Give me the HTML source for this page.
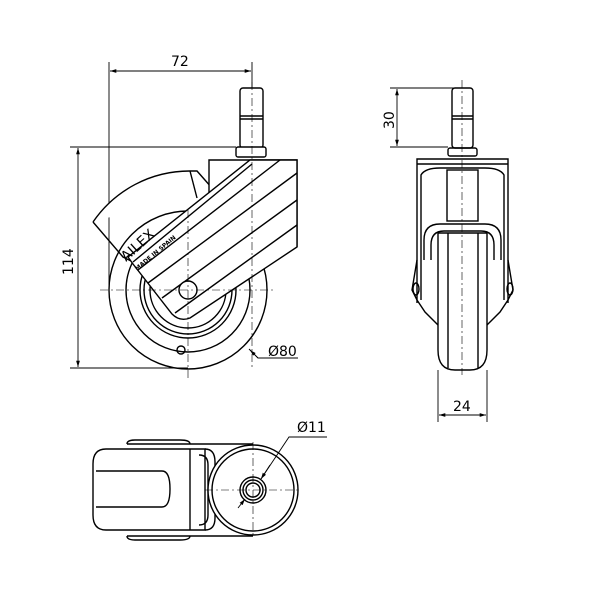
<!DOCTYPE html>
<html><head><style>html,body{margin:0;padding:0;background:#fff}svg{display:block}</style></head>
<body>
<svg width="600" height="600" viewBox="0 0 600 600" xmlns="http://www.w3.org/2000/svg" font-family="DejaVu Sans, Liberation Sans, sans-serif">
<rect width="600" height="600" fill="#fff"/>
<defs>
<marker id="a" viewBox="0 0 10 10" refX="10" refY="5" markerWidth="7" markerHeight="7" orient="auto-start-reverse"><path d="M0,2 L10,5 L0,8 z" fill="#000"/></marker>
</defs>
<g fill="none" stroke="#000" stroke-width="0.9">
<line x1="109" y1="62" x2="109" y2="290"/>
<line x1="252" y1="62" x2="252" y2="90"/>
<line x1="110" y1="71" x2="251" y2="71" marker-start="url(#a)" marker-end="url(#a)"/>
<line x1="70" y1="147" x2="236" y2="147"/>
<line x1="70" y1="368" x2="188" y2="368"/>
<line x1="78" y1="148" x2="78" y2="367" marker-start="url(#a)" marker-end="url(#a)"/>
<polyline points="298,358 258,358 249,349" />
<line x1="258" y1="358" x2="250" y2="350" marker-end="url(#a)"/>
</g>
<g fill="none" stroke="#000" stroke-width="1.4">
<circle cx="188" cy="290" r="79"/>
<circle cx="188" cy="290" r="62"/>
<circle cx="188" cy="290" r="48"/>
<circle cx="188" cy="290" r="44"/>
<circle cx="188" cy="290" r="38"/>
<circle cx="181" cy="350" r="4"/>
<path d="M93,222 A117,117 0 0 1 190,171 L197,171 L212,188" fill="#fff"/>
<path d="M93,222 L123,257 L133,262"/>
<path d="M190,171 L197,198"/>
<rect x="240" y="88" width="23" height="60" rx="3" fill="#fff"/>
<line x1="240" y1="116" x2="263" y2="116"/><line x1="240" y1="119" x2="263" y2="119"/>
<rect x="236" y="147" width="30" height="10" rx="2" fill="#fff"/>
<path d="M209,160 L297,160 L297,247 L209,247 Z" fill="#fff" stroke="none"/>
<path d="M209,195 L209,160 L297,160 L297,247"/>
<path d="M128,257 L250,160 L297,160 L297,247 L190,318 Q180,322 172,314 L133,264 Z" fill="#fff"/>
<line x1="133" y1="262" x2="252" y2="164"/>
<line x1="138" y1="270" x2="280" y2="160"/>
<line x1="148" y1="283" x2="297" y2="173"/>
<line x1="162" y1="298" x2="297" y2="200"/>
<line x1="175" y1="313" x2="297" y2="225"/>
<circle cx="188" cy="290" r="9" fill="#fff"/>
</g>
<g stroke="#000" stroke-width="0.6" stroke-dasharray="8,3,2,3" fill="none">
<line x1="100" y1="290" x2="276" y2="290"/>
<line x1="188" y1="210" x2="188" y2="378"/>
<line x1="252" y1="82" x2="252" y2="370"/>
</g>
<g fill="#000">
<text transform="translate(126,262) rotate(-42)" font-size="14">AILEX</text>
<text transform="translate(137,271) rotate(-40)" font-size="6" font-weight="bold">MADE IN SPAIN</text>
</g>
<text x="268" y="356" font-size="14">Ø80</text>
<text x="171" y="66" font-size="14">72</text>
<text transform="translate(73,275) rotate(-90)" font-size="14">114</text>

<g fill="none" stroke="#000" stroke-width="0.9">
<line x1="390" y1="88" x2="455" y2="88"/>
<line x1="390" y1="147" x2="448" y2="147"/>
<line x1="397" y1="89" x2="397" y2="146" marker-start="url(#a)" marker-end="url(#a)"/>
<line x1="438" y1="370" x2="438" y2="422"/>
<line x1="487" y1="370" x2="487" y2="422"/>
<line x1="439" y1="415" x2="486" y2="415" marker-start="url(#a)" marker-end="url(#a)"/>
</g>
<g fill="none" stroke="#000" stroke-width="1.4">
<rect x="452" y="88" width="21" height="60" rx="3"/>
<line x1="452" y1="116" x2="473" y2="116"/><line x1="452" y1="119" x2="473" y2="119"/>
<rect x="448" y="148" width="29" height="8" rx="2"/>
<path d="M417,303 L417,159 L508,159 L508,303"/>
<line x1="417" y1="164" x2="508" y2="164"/>
<path d="M421,300 L421,175 Q425,168 440,168 L485,168 Q500,168 504,175 L504,300"/>
<rect x="447" y="170" width="31" height="51"/>
<path d="M424,260 L424,240 Q424,224 440,224 L485,224 Q501,224 501,240 L501,260"/>
<path d="M431,260 L431,245 Q431,231 444,231 L481,231 Q494,231 494,245 L494,260"/>
<path d="M438,233 L487,233 L487,350 Q487,370 470,370 L455,370 Q438,370 438,350 Z"/>
<line x1="448" y1="233" x2="448" y2="368"/>
<line x1="478" y1="233" x2="478" y2="368"/>
<path d="M417,260 L412,290 L417,300 L425,312 L438,325"/>
<path d="M508,260 L513,290 L508,300 L500,312 L487,325"/>
<ellipse cx="416" cy="289" rx="3" ry="6"/>
<ellipse cx="510" cy="289" rx="3" ry="6"/>
</g>
<line x1="462" y1="80" x2="462" y2="375" stroke="#000" stroke-width="0.6" stroke-dasharray="8,3,2,3"/>
<text transform="translate(394,129) rotate(-90)" font-size="14">30</text>
<text x="453" y="411" font-size="14">24</text>

<g fill="none" stroke="#000" stroke-width="1.4">
<path d="M127,444 L253,444 M127,536 L253,536"/>
<path d="M127,444 Q127,440 135,440 L180,440 Q190,440 190,444"/>
<path d="M127,536 Q127,540 135,540 L180,540 Q190,540 190,536"/>
<path d="M106,449 L205,449 L205,530 L106,530 Q93,530 93,515 L93,464 Q93,449 106,449 Z" fill="#fff"/>
<path d="M96,471 L162,471 Q170,471 170,489 Q170,507 162,507 L96,507"/>
<line x1="190" y1="449" x2="190" y2="530"/>
<path d="M205,449 Q215,449 215,462 L215,518 Q215,530 205,530"/>
<path d="M199,455 Q208,455 208,465 L208,515 Q208,525 199,525"/>
<circle cx="253" cy="490" r="45" fill="#fff"/>
<circle cx="253" cy="490" r="41"/>
<circle cx="253" cy="490" r="13"/>
<circle cx="253" cy="490" r="10"/>
<circle cx="253" cy="490" r="7"/>
</g>
<g stroke="#000" stroke-width="0.6" stroke-dasharray="8,3,2,3">
<line x1="205" y1="490" x2="300" y2="490"/>
<line x1="253" y1="442" x2="253" y2="538"/>
</g>
<g fill="none" stroke="#000" stroke-width="0.9">
<polyline points="327,437 289,437 261,479"/>
<line x1="270" y1="465" x2="261" y2="479" marker-end="url(#a)"/>
<line x1="238" y1="508" x2="245" y2="499" marker-end="url(#a)"/>
</g>
<text x="297" y="432" font-size="14">Ø11</text>
</svg>
</body></html>
